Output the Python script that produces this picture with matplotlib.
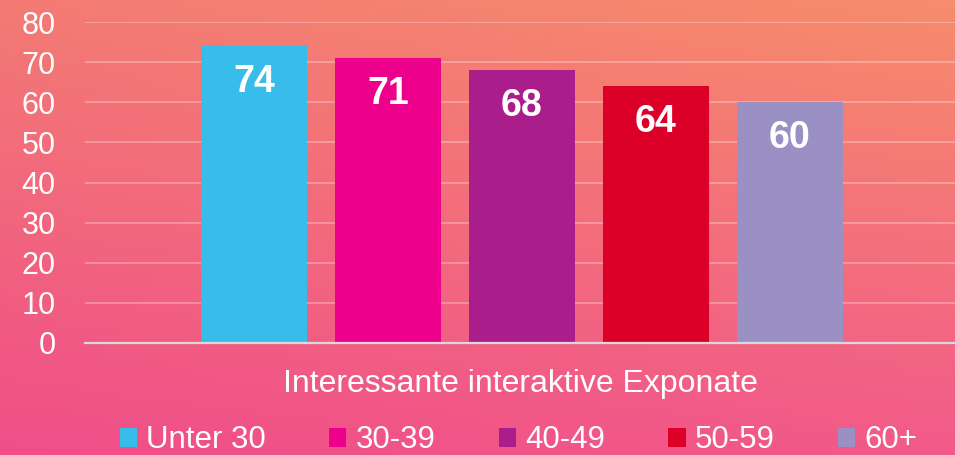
import matplotlib
matplotlib.use("Agg")
import matplotlib.pyplot as plt
from matplotlib.patches import Patch
import numpy as np

plt.rcParams['font.family'] = ['Liberation Sans', 'DejaVu Sans']

groups = ["Unter 30", "30-39", "40-49", "50-59", "60+"]
values = [74, 71, 68, 64, 60]
colors = ["#38BDEB", "#EC008C", "#AA1E8C", "#DC0029", "#9B90C3"]
category = "Interessante interaktive Exponate"
yticks = [0, 10, 20, 30, 40, 50, 60, 70, 80]

fig = plt.figure(figsize=(9.55, 4.55), dpi=100)

# gradient background (bilinear between corner colours)
bg = fig.add_axes([0, 0, 1, 1], zorder=0)
tl = np.array(matplotlib.colors.to_rgb("#F37B74"))
tr = np.array(matplotlib.colors.to_rgb("#F78D6B"))
bl = np.array(matplotlib.colors.to_rgb("#F04E88"))
br = np.array(matplotlib.colors.to_rgb("#F25A8A"))
u = np.linspace(0, 1, 200)[None, :, None]
v = np.linspace(0, 1, 100)[:, None, None]
img = (1 - v) * ((1 - u) * tl + u * tr) + v * ((1 - u) * bl + u * br)
bg.imshow(img, aspect="auto", extent=[0, 1, 0, 1], origin="upper")
bg.axis("off")

ax = fig.add_axes([85 / 955, 112 / 455, 1 - 85 / 955, 321 / 455], zorder=1)
ax.set_facecolor("none")

x = np.arange(len(groups))
bars = ax.bar(x, values, width=0.791, color=colors, zorder=3)
for xi, val in zip(x, values):
    ax.annotate(str(val), xy=(xi, val), xytext=(0, -26), textcoords="offset points",
                ha="center", va="center", color="white", fontsize=27,
                fontweight="bold", zorder=4)

ax.set_xlim(-1.261, 5.232)
ax.set_ylim(0, 80)
ax.set_yticks(yticks)
ax.tick_params(axis="y", length=0, pad=21, labelsize=22, labelcolor="white")
ax.set_xticks([])
ax.grid(axis="y", color="white", alpha=0.3, linewidth=1.3, zorder=1)
for s in ["left", "top", "right"]:
    ax.spines[s].set_visible(False)
ax.spines["bottom"].set_color("#D9D9D9")
ax.spines["bottom"].set_linewidth(1.6)
ax.spines["bottom"].set_zorder(5)
ax.set_xlabel(category, color="white", fontsize=23, labelpad=19)

handles = [Patch(facecolor=c, edgecolor="none") for c in colors]
fig.legend(handles, groups, loc="center", bbox_to_anchor=(0.543, 0.032), ncol=5,
           frameon=False, fontsize=22.5, labelcolor="white", handlelength=0.55,
           handleheight=0.55, handletextpad=0.3, columnspacing=2.02)

fig.savefig("out.png", dpi=100)
